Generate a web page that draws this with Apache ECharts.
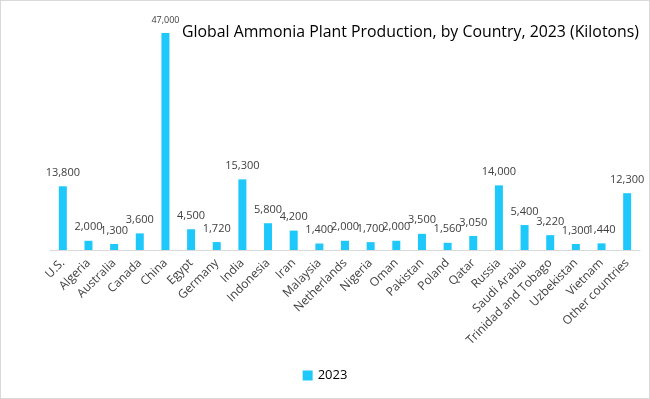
<!DOCTYPE html>
<html><head><meta charset="utf-8">
<script src="https://cdn.jsdelivr.net/npm/echarts@6/dist/echarts.min.js"></script>
<style>html,body{margin:0;padding:0;background:#fff}#c{width:650px;height:399px;box-sizing:border-box;border:1px solid #d9d9d9}</style>
</head><body><div id="c"></div>
<script>
const categories = ["U.S.","Algeria","Australia","Canada","China","Egypt","Germany","India","Indonesia","Iran","Malaysia","Netherlands","Nigeria","Oman","Pakistan","Poland","Qatar","Russia","Saudi Arabia","Trinidad and Tobago","Uzbekistan","Vietnam","Other countries"];
const values2023 = [13800,2000,1300,3600,47000,4500,1720,15300,5800,4200,1400,2000,1700,2000,3500,1560,3050,14000,5400,3220,1300,1440,12300];
const seriesName = "2023";
const titleText = "Global Ammonia Plant Production, by Country, 2023 (Kilotons)";

const chart = echarts.init(document.getElementById('c'));
const font = "'Open Sans', 'Liberation Sans', sans-serif";
chart.setOption({
  animation:false,
  title:{text:titleText,right:5,top:18,textStyle:{fontFamily:font,fontSize:15.85,fontWeight:'normal',color:'#000'}},
  grid:{left:49,right:9,top:32,bottom:148,containLabel:false},
  legend:{bottom:11,left:'center',itemWidth:10,itemHeight:10,icon:'rect',textStyle:{fontFamily:font,fontSize:13,color:'#000'},data:[seriesName]},
  xAxis:{type:'category',data:categories,axisLine:{lineStyle:{color:'#d9d9d9'}},axisTick:{show:false},
    axisLabel:{interval:0,rotate:45,fontFamily:font,fontSize:12,color:'#404040',margin:11}},
  yAxis:{type:'value',min:0,max:47000,show:false,splitLine:{show:false}},
  series:[{name:seriesName,type:'bar',barWidth:8,itemStyle:{color:'#1EC8FA'},
    data:values2023.map((v,i)=> i===4 ? {value:v,label:{fontSize:9}} : v),
    label:{show:true,position:'top',distance:8,fontFamily:font,fontSize:11,color:'#404040',
      formatter:p=>p.value.toLocaleString('en-US')}}]
});
</script></body></html>
